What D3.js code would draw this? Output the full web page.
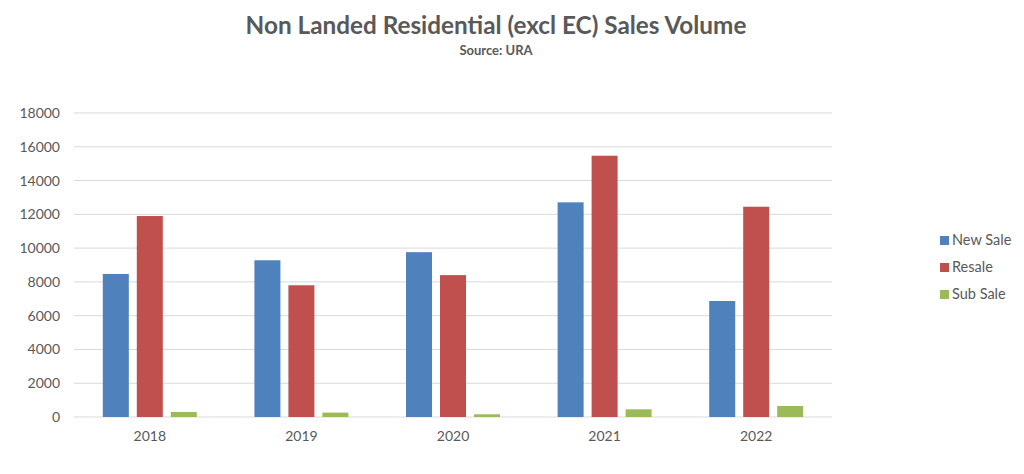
<!DOCTYPE html>
<html>
<head>
<meta charset="utf-8">
<script src="https://cdn.jsdelivr.net/npm/d3@7"></script>
<style>
  body { margin: 0; background: #fff; }
  text { font-family: Lato, "Open Sans", sans-serif; fill: #595959; }
</style>
</head>
<body>
<svg id="chart"></svg>
<script>
const years = ['2018', '2019', '2020', '2021', '2022'];
const seriesNames = ['New Sale', 'Resale', 'Sub Sale'];
const newSale = [8470, 9280, 9760, 12710, 6870];
const resale = [11900, 7800, 8400, 15470, 12450];
const subSale = [300, 260, 160, 455, 650];
const yTicks = [0, 2000, 4000, 6000, 8000, 10000, 12000, 14000, 16000, 18000];
const colors = ['#4F81BD', '#C0504D', '#9BBB59'];

const width = 1024;
const height = 474;
const margin = { top: 113, right: 192, bottom: 57, left: 74 };

const svg = d3.select('#chart')
  .attr('width', width)
  .attr('height', height);

// Titles
svg.append('text')
  .attr('x', 496).attr('y', 34)
  .attr('text-anchor', 'middle')
  .attr('font-size', 24.3).attr('font-weight', 'bold')
  .text('Non Landed Residential (excl EC) Sales Volume');

svg.append('text')
  .attr('x', 496).attr('y', 55)
  .attr('text-anchor', 'middle')
  .attr('font-size', 13).attr('font-weight', 'bold')
  .text('Source: URA');

const g = svg.append('g')
  .attr('transform', `translate(${margin.left}, ${margin.top})`);

const innerW = width - margin.left - margin.right;
const innerH = height - margin.top - margin.bottom;

const x0 = d3.scaleBand().domain(years).range([0, innerW]);
const bw = x0.bandwidth();
const x1 = d3.scaleBand().domain(seriesNames)
  .range([bw * 0.19, bw * 0.81])
  .paddingInner(0.235);
const y = d3.scaleLinear().domain([0, 18000]).range([innerH, 0]);

// Gridlines
g.append('g')
  .selectAll('line')
  .data(yTicks)
  .enter()
  .append('line')
  .attr('x1', 0).attr('x2', innerW)
  .attr('y1', d => y(d)).attr('y2', d => y(d))
  .attr('stroke', '#D9D9D9').attr('stroke-width', 1);

// Y axis labels
const yAxis = g.append('g')
  .call(d3.axisLeft(y).tickValues(yTicks).tickSize(0).tickPadding(14).tickFormat(d3.format('d')));
yAxis.select('.domain').remove();
yAxis.selectAll('text').attr('font-size', 14).style('font-family', 'Lato, "Open Sans", sans-serif').attr('fill', '#595959');

// X axis labels
const xAxis = g.append('g')
  .attr('transform', `translate(0, ${innerH})`)
  .call(d3.axisBottom(x0).tickSize(0).tickPadding(14));
xAxis.select('.domain').remove();
xAxis.selectAll('text').attr('font-size', 14).style('font-family', 'Lato, "Open Sans", sans-serif').attr('fill', '#595959');

// Bars
const values = [newSale, resale, subSale];
const rows = years.map((yr, i) => ({ year: yr, vals: seriesNames.map((s, j) => ({ key: s, value: values[j][i], idx: j })) }));

g.selectAll('.group')
  .data(rows)
  .enter()
  .append('g')
  .attr('transform', d => `translate(${x0(d.year)}, 0)`)
  .selectAll('rect')
  .data(d => d.vals)
  .enter()
  .append('rect')
  .attr('x', d => x1(d.key))
  .attr('width', x1.bandwidth())
  .attr('y', d => y(d.value))
  .attr('height', d => innerH - y(d.value))
  .attr('fill', d => colors[d.idx]);

// Legend
const legend = svg.append('g').attr('transform', 'translate(940, 240)');
seriesNames.forEach((s, i) => {
  const row = legend.append('g').attr('transform', `translate(0, ${i * 27})`);
  row.append('rect')
    .attr('x', 0).attr('y', -4).attr('width', 9).attr('height', 9)
    .attr('fill', colors[i]);
  row.append('text')
    .attr('x', 12).attr('y', 5)
    .attr('font-size', 14.5)
    .text(s);
});
</script>
</body>
</html>
